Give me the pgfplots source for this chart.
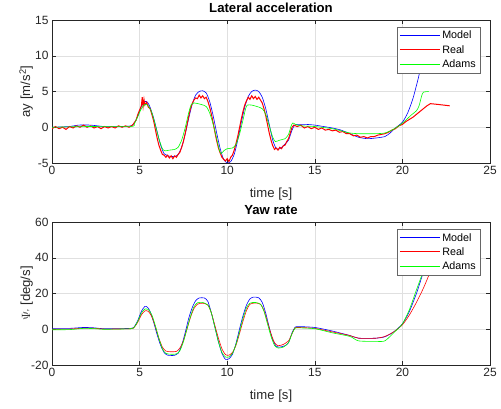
\documentclass[border=0pt]{standalone}
\usepackage{pgfplots}
\pgfplotsset{compat=1.18}
\usepackage{fontspec}
\setmainfont{Liberation Sans}
\definecolor{axgray}{rgb}{0.15,0.15,0.15}
\definecolor{gridgray}{rgb}{0.88,0.88,0.88}
\definecolor{modelblue}{rgb}{0,0,1}
\definecolor{realred}{rgb}{1,0,0}
\definecolor{adamsgreen}{rgb}{0,1,0}
\pgfplotsset{
  mstyle/.style={
    scale only axis, width=438bp, height=143bp,
    xmin=0, xmax=25,
    xtick={0,5,10,15,20,25},
    xticklabels={0,5,10,15,20,25},
    axis line style={axgray, line width=0.5bp},
    tick style={axgray, line width=0.5bp},
    major tick length=4bp,
    tick align=inside,
    grid=major,
    major grid style={gridgray, line width=0.5bp},
    ticklabel style={font=\fontsize{12}{14}\selectfont, text=axgray},
    label style={font=\fontsize{13.2}{15}\selectfont, text=axgray},
    title style={font=\fontsize{13.2}{15}\selectfont\bfseries, text=black, yshift=-2bp},
    xlabel={time [s]},
    xlabel style={at={(axis description cs:0.5,-0.238)}, anchor=base},
    ylabel style={at={(axis description cs:-0.05,0.5)}, anchor=base},
    legend cell align=left,
    legend style={at={(axis description cs:0.977,0.951)}, anchor=north east,
      font=\fontsize{10.8}{13}\selectfont, draw=gray!80!black, fill=white,
      inner xsep=2bp, inner ysep=2bp, row sep=1bp},
    legend image code/.code={\draw[##1] plot coordinates {(0bp,0.5bp) (40bp,0.5bp)};},
    every axis plot/.append style={line width=0.6bp},
  }
}
\begin{document}
\begin{tikzpicture}
\useasboundingbox (-52bp,-246bp) rectangle (449bp,163bp);
\begin{axis}[mstyle, at={(0bp,0bp)}, anchor=south west,
  ymin=-5, ymax=15, ytick={-5,0,5,10,15}, yticklabels={-5,0,5,10,15},
  title={Lateral acceleration},
  ylabel={ay [m/s\textsuperscript{2}]}]
\addlegendimage{draw=modelblue, line width=0.6bp}
\addlegendentry{Model}
\addlegendimage{draw=realred, line width=0.6bp}
\addlegendentry{Real}
\addlegendimage{draw=adamsgreen, line width=0.6bp}
\addlegendentry{Adams}
\addplot[draw=modelblue, smooth, tension=0.4, forget plot] coordinates {
(0,0) (1,0.1) (1.5,0.3) (2.2,0.3) (3,0.1) (4,0.1) (4.5,0.2) (4.7,0.6) (4.9,1.6) (5.1,2.9) (5.3,3.6) (5.45,3.5) (5.6,2.8) (5.8,1.3) (6.0,-0.6) (6.2,-2.5) (6.4,-3.7) (6.6,-4.0) (7.0,-4.1) (7.2,-3.8) (7.4,-2.8) (7.6,-1.0) (7.8,1.2) (8.0,3.2) (8.2,4.5) (8.4,5.0) (8.6,5.1) (8.8,4.8) (9.0,3.6) (9.2,1.6) (9.4,-0.8) (9.6,-3.0) (9.8,-4.5) (10.0,-5.0) (10.2,-4.8) (10.4,-3.8) (10.6,-1.8) (10.8,0.6) (11.0,2.8) (11.2,4.3) (11.4,5.0) (11.6,5.2) (11.8,5.0) (12.0,4.2) (12.2,2.6) (12.4,0.4) (12.6,-1.8) (12.8,-3.0) (13.0,-3.0) (13.2,-2.6) (13.5,-1.8) (13.7,-0.4) (13.85,0.3) (14.0,0.4) (14.5,0.4) (15,0.3) (15.5,0.1) (16,-0.1) (16.5,-0.4) (17,-0.9) (17.5,-1.4) (18,-1.6) (18.5,-1.5) (19,-1.3) (19.3,-0.8) (19.6,-0.1) (20.0,0.7) (20.3,2.0) (20.6,4.0) (20.9,6.8) (21.2,10.0) (21.5,13.5)
};
\addplot[draw=realred, line width=1bp, forget plot] coordinates {
(0,-0.2) (0.2,0.1) (0.4,-0.2) (0.6,0.0) (0.8,-0.3) (1.0,0.1) (1.2,-0.1) (1.4,0.2) (1.6,0.0) (1.8,0.3) (2.0,0.0) (2.2,0.2) (2.4,-0.1) (2.6,0.1) (2.8,-0.2) (3.0,0.1) (3.2,-0.1) (3.4,0.1) (3.6,-0.1) (3.8,0.2) (4.0,0.0) (4.2,0.2) (4.4,0.0) (4.6,0.3) (4.8,1.0) (4.9,1.8) (5.0,2.4) (5.1,3.0) (5.15,4.2) (5.2,2.9) (5.25,3.9) (5.3,3.1) (5.4,3.5) (5.5,2.8) (5.6,2.6) (5.7,1.8) (5.8,0.9) (5.9,-0.3) (6.0,-1.5) (6.1,-2.5) (6.2,-3.2) (6.3,-3.8) (6.4,-3.9) (6.5,-4.2) (6.6,-3.9) (6.7,-4.3) (6.8,-4.0) (6.9,-4.4) (7.0,-4.0) (7.1,-4.2) (7.2,-3.8) (7.3,-3.5) (7.4,-2.8) (7.5,-2.0) (7.6,-0.9) (7.7,0.3) (7.8,1.5) (7.9,2.6) (8.0,3.3) (8.1,3.8) (8.2,4.1) (8.3,4.0) (8.4,4.5) (8.5,4.1) (8.6,4.4) (8.7,4.0) (8.8,4.2) (8.9,3.6) (9.0,2.8) (9.1,1.8) (9.2,0.6) (9.3,-0.7) (9.4,-1.9) (9.5,-2.9) (9.6,-3.6) (9.7,-4.2) (9.8,-4.5) (9.9,-4.7) (10.0,-4.4) (10.1,-4.8) (10.2,-4.2) (10.3,-3.9) (10.4,-3.2) (10.5,-2.3) (10.6,-1.3) (10.7,-0.1) (10.8,1.1) (10.9,2.2) (11.0,3.1) (11.1,3.7) (11.2,4.2) (11.3,3.9) (11.4,4.4) (11.5,4.0) (11.6,4.3) (11.7,3.9) (11.8,4.2) (11.9,3.8) (12.0,3.4) (12.1,2.6) (12.2,1.6) (12.3,0.4) (12.4,-0.8) (12.5,-1.8) (12.6,-2.6) (12.7,-3.1) (12.8,-2.9) (12.9,-3.2) (13.0,-2.8) (13.1,-3.0) (13.2,-2.6) (13.3,-2.5) (13.4,-2.0) (13.5,-1.6) (13.6,-0.8) (13.7,0.0) (13.8,0.3) (14.0,0.1) (14.2,0.3) (14.4,-0.1) (14.6,0.1) (14.8,-0.2) (15.0,0.0) (15.2,-0.3) (15.4,-0.1) (15.6,-0.4) (15.8,-0.3) (16.0,-0.5) (16.2,-0.4) (16.4,-0.7) (16.6,-0.6) (16.8,-0.9) (17.0,-0.9) (17.2,-1.2) (17.4,-1.1) (17.6,-1.4) (17.8,-1.3) (18.0,-1.5) (18.2,-1.3) (18.4,-1.3) (18.6,-1.1) (18.8,-1.0) (19.0,-0.9) (19.2,-0.7) (19.4,-0.4) (19.6,-0.2) (19.8,0.2) (20.0,0.4) (20.2,0.8) (20.4,1.1) (20.6,1.4) (20.8,1.8) (21.0,2.2) (21.2,2.6) (21.4,3.0) (21.6,3.3) (22.0,3.2) (22.7,3.0)
};
\addplot[draw=adamsgreen, smooth, tension=0.4, forget plot] coordinates {
(0,0) (2,0.1) (4.5,0.1) (4.7,0.5) (4.9,1.5) (5.1,2.6) (5.3,3.2) (5.5,3.0) (5.7,2.0) (5.9,0.3) (6.1,-1.6) (6.3,-3.0) (6.45,-3.3) (6.7,-3.2) (7.0,-3.1) (7.2,-2.8) (7.4,-1.8) (7.6,-0.1) (7.8,2.0) (7.95,3.2) (8.1,3.4) (8.5,3.2) (8.8,2.9) (9.0,2.0) (9.2,0.4) (9.4,-1.6) (9.55,-3.2) (9.65,-3.7) (9.8,-3.3) (10.0,-3.0) (10.3,-2.9) (10.5,-2.4) (10.7,-1.0) (10.9,1.0) (11.05,2.6) (11.15,3.1) (11.4,3.1) (11.7,2.9) (12.0,2.6) (12.2,1.8) (12.4,0.2) (12.6,-1.4) (12.75,-2.0) (13.0,-1.8) (13.3,-1.6) (13.5,-1.0) (13.65,0.2) (13.75,0.6) (13.9,0.4) (14.2,0.2) (15,0.1) (16,-0.2) (16.5,-0.5) (17,-0.8) (17.5,-0.9) (18.5,-0.9) (19,-0.8) (19.4,-0.4) (19.8,0.2) (20.2,1.0) (20.5,1.7) (20.8,2.3) (20.95,3.0) (21.1,4.4) (21.2,4.9) (21.5,5.0)
};
\end{axis}
\begin{axis}[mstyle, at={(0bp,-202bp)}, anchor=south west,
  ymin=-20, ymax=60, ytick={-20,0,20,40,60}, yticklabels={-20,0,20,40,60},
  title={Yaw rate},
  ylabel={$\Psi$\raisebox{0.3ex}{\small\itshape,} [deg/s]}]
\addlegendimage{draw=modelblue, line width=0.6bp}
\addlegendentry{Model}
\addlegendimage{draw=realred, line width=0.6bp}
\addlegendentry{Real}
\addlegendimage{draw=adamsgreen, line width=0.6bp}
\addlegendentry{Adams}
\addplot[draw=modelblue, smooth, tension=0.4, forget plot] coordinates {
(0,0.5) (1,0.5) (1.8,1.0) (2.4,0.8) (3,0.3) (4.5,0.5) (4.7,1.5) (4.9,5) (5.1,10) (5.3,12.8) (5.45,12.3) (5.6,10) (5.8,4) (6.0,-3) (6.2,-9) (6.4,-13) (6.6,-14.5) (7.0,-14.6) (7.2,-13.5) (7.4,-9) (7.6,-2) (7.8,6) (8.0,12) (8.2,16) (8.4,17.5) (8.7,17.5) (8.9,15.5) (9.1,9) (9.3,1) (9.5,-7) (9.7,-13.5) (9.9,-16.8) (10.1,-16.5) (10.3,-14) (10.5,-8) (10.7,0) (10.9,7.5) (11.1,13.5) (11.3,17) (11.5,18) (11.8,17.6) (12.0,15) (12.2,9) (12.4,1) (12.6,-6) (12.8,-9.5) (13.0,-10) (13.3,-9.2) (13.5,-7.5) (13.7,-2) (13.85,0.8) (14.0,1.5) (15,1.0) (16,-1.0) (17,-3.5) (17.5,-5.0) (18.5,-5.0) (19,-4.2) (19.5,-1.5) (20,3) (20.4,10) (20.8,20) (21.1,29) (21.4,38)
};
\addplot[draw=realred, smooth, tension=0.4, forget plot] coordinates {
(0,0) (1,0.1) (1.8,0.6) (2.5,0.5) (3,0.1) (4.5,0.3) (4.7,1.2) (4.9,4) (5.1,8) (5.3,10.3) (5.5,10) (5.7,7) (5.9,1.5) (6.1,-5) (6.3,-10) (6.5,-12.2) (6.8,-12.6) (7.1,-12.4) (7.3,-10.5) (7.5,-6.5) (7.7,0) (7.9,6.5) (8.1,11.5) (8.3,14) (8.6,14.6) (8.9,13.5) (9.1,9) (9.3,2) (9.5,-5) (9.7,-11) (9.9,-14.2) (10.1,-14.5) (10.3,-13) (10.5,-9) (10.7,-2.5) (10.9,4.5) (11.1,10.5) (11.3,14) (11.6,14.7) (11.9,14) (12.1,10.5) (12.3,4) (12.5,-2.5) (12.7,-7.5) (12.9,-9.2) (13.2,-8.5) (13.5,-6.5) (13.7,-2.5) (13.85,0.5) (14.0,1.0) (15,0.5) (16,-1.5) (17,-3.5) (17.5,-5.0) (18.5,-5.0) (19,-4.0) (19.5,-1.5) (20,2.5) (20.4,8) (20.8,15) (21.2,23) (21.5,30) (21.7,35)
};
\addplot[draw=adamsgreen, smooth, tension=0.4, forget plot] coordinates {
(0,-0.3) (1,-0.2) (1.8,0.5) (2.5,0.3) (3,0) (4.5,0.3) (4.7,1.3) (4.9,4.5) (5.1,9) (5.3,11.3) (5.5,11) (5.7,8) (5.9,2) (6.1,-5) (6.3,-11) (6.5,-13.5) (6.8,-14) (7.1,-13.8) (7.3,-12) (7.5,-7) (7.7,0) (7.9,7) (8.1,12.5) (8.3,14.8) (8.6,15) (8.9,13.5) (9.1,9) (9.3,1) (9.5,-7) (9.7,-13) (9.9,-15.5) (10.1,-15.5) (10.3,-13.5) (10.5,-8.5) (10.7,-1.5) (10.9,6) (11.1,12) (11.3,14.6) (11.6,15) (11.9,14) (12.1,10) (12.3,3) (12.5,-4) (12.7,-9) (12.9,-10.5) (13.2,-10) (13.5,-7.5) (13.7,-2.5) (13.85,0.3) (14.0,0.8) (15,0.3) (16,-2.0) (17,-4.0) (17.5,-6.5) (18.5,-6.8) (19,-6.5) (19.5,-2.0) (20,3) (20.4,11) (20.8,22) (21.1,30) (21.4,38)
};
\end{axis}
\end{tikzpicture}
\end{document}
